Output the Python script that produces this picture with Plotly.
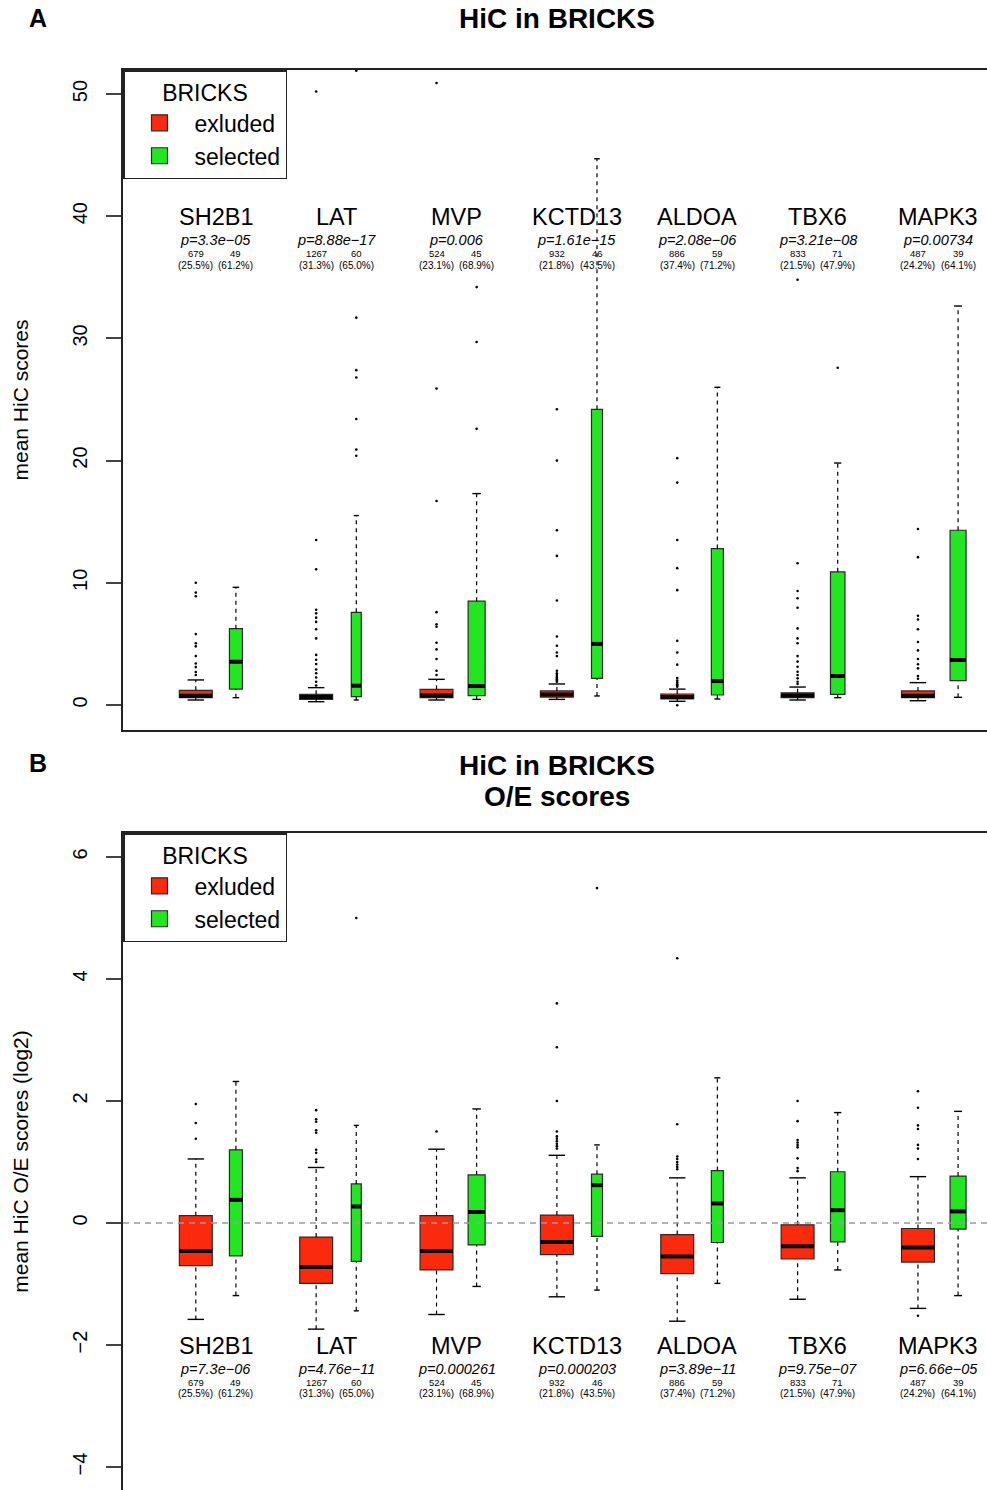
import plotly.graph_objects as go

# ---------------- data ----------------
genes = ["SH2B1", "LAT", "MVP", "KCTD13", "ALDOA", "TBX6", "MAPK3"]
n_excl = [679, 1267, 524, 932, 886, 833, 487]
n_sel = [49, 60, 45, 46, 59, 71, 39]
pct_excl = [25.5, 31.3, 23.1, 21.8, 37.4, 21.5, 24.2]
pct_sel = [61.2, 65.0, 68.9, 43.5, 71.2, 47.9, 64.1]
p_A = ["3.3e\u221205", "8.88e\u221217", "0.006", "1.61e\u221215", "2.08e\u221206", "3.21e\u221208", "0.00734"]
p_B = ["7.3e\u221206", "4.76e\u221211", "0.000261", "0.000203", "3.89e\u221211", "9.75e\u221207", "6.66e\u221205"]

# Panel A: mean HiC scores  [lower whisker, q1, median, q3, upper whisker]
A_excl_stats = [
    [0.41, 0.60, 0.76, 1.20, 2.05],
    [0.27, 0.46, 0.65, 0.87, 1.42],
    [0.41, 0.60, 0.78, 1.28, 2.10],
    [0.46, 0.65, 0.85, 1.15, 1.72],
    [0.30, 0.49, 0.65, 0.90, 1.30],
    [0.41, 0.60, 0.78, 1.00, 1.47],
    [0.35, 0.60, 0.75, 1.15, 1.83],
]
A_sel_stats = [
    [0.60, 1.30, 3.54, 6.25, 9.63],
    [0.41, 0.68, 1.58, 7.58, 15.5],
    [0.46, 0.76, 1.55, 8.50, 17.3],
    [0.74, 2.18, 5.00, 24.2, 44.7],
    [0.49, 0.82, 1.96, 12.8, 26.0],
    [0.60, 0.87, 2.37, 10.9, 19.8],
    [0.63, 2.00, 3.68, 14.3, 32.65],
]
A_excl_out = [
    [10.0, 9.2, 8.9, 5.8, 5.05, 4.8, 4.0, 3.4, 3.1, 2.7, 2.45],
    [50.2, 13.5, 11.1, 7.8, 7.5, 7.15, 6.8, 6.2, 5.45, 4.1, 3.7, 3.35, 2.9, 2.6, 2.25, 1.9, 1.6],
    [50.9, 25.9, 16.7, 7.6, 6.6, 6.4, 5.1, 4.55, 3.76, 2.8, 2.45],
    [24.2, 20.0, 14.3, 12.2, 8.55, 5.6, 4.85, 4.3, 4.0, 2.8, 2.6, 2.45, 2.3, 2.2, 2.1, 2.0, 1.9],
    [20.2, 18.2, 13.5, 11.2, 9.4, 5.25, 4.3, 3.3, 2.2, 2.0, 1.85, 1.7, 1.6, 1.5, -0.02],
    [34.8, 11.6, 9.33, 8.73, 7.96, 6.27, 5.45, 5.05, 4.0, 3.55, 3.13, 2.72, 2.45, 2.18, 1.9, 1.72],
    [14.4, 12.1, 7.3, 7.0, 6.2, 5.15, 4.47, 3.76, 3.33, 3.0, 2.37, 2.15],
]
A_sel_out = [
    [],
    [51.9, 31.7, 27.4, 26.8, 23.4, 20.9, 20.4],
    [34.2, 29.7, 22.6],
    [],
    [],
    [27.6],
    [],
]

# Panel B: mean HiC O/E scores (log2)
B_excl_stats = [
    [-1.58, -0.70, -0.46, 0.12, 1.05],
    [-1.74, -0.99, -0.72, -0.23, 0.91],
    [-1.50, -0.77, -0.46, 0.12, 1.21],
    [-1.21, -0.52, -0.31, 0.13, 1.11],
    [-1.61, -0.83, -0.55, -0.19, 0.74],
    [-1.25, -0.59, -0.38, -0.03, 0.74],
    [-1.40, -0.64, -0.40, -0.09, 0.76],
]
B_sel_stats = [
    [-1.19, -0.54, 0.38, 1.20, 2.32],
    [-1.44, -0.63, 0.27, 0.64, 1.60],
    [-1.04, -0.36, 0.18, 0.79, 1.87],
    [-1.10, -0.22, 0.62, 0.80, 1.28],
    [-0.99, -0.32, 0.32, 0.86, 2.38],
    [-0.77, -0.31, 0.21, 0.84, 1.81],
    [-1.19, -0.10, 0.19, 0.77, 1.83],
]
B_excl_out = [
    [1.95, 1.64, 1.38],
    [1.85, 1.70, 1.66, 1.52, 1.48, 1.20, 1.15, 1.04, 1.00],
    [1.50],
    [3.60, 2.88, 2.00, 1.50, 1.42, 1.38, 1.34, 1.30, 1.26, 1.22],
    [4.34, 1.62, 1.09, 1.05, 1.00, 0.96, 0.92, 0.88],
    [2.00, 1.67, 1.36, 1.32, 1.28, 1.24, 1.06, 0.90, 0.85],
    [2.16, 1.89, 1.60, 1.54, 1.28, 1.22, 1.05, -1.52],
]
B_sel_out = [
    [],
    [5.0],
    [],
    [5.49],
    [],
    [],
    [],
]

# relative box widths (x units; one gene block = 3 units)
w_excl = [0.82] * 7
w_sel = [0.324, 0.249, 0.424, 0.274, 0.299, 0.361, 0.399]

RED = "#fb2a0c"
GREEN = "#22e622"
EDGE = "#2a2a2a"
FONT = "Liberation Sans, Arial, Helvetica, sans-serif"

W, H = 987, 1490
X0 = 123.0
PX_PER_UNIT = 40.12
RED0_PX = 195.8
xrange = [(X0 - RED0_PX) / PX_PER_UNIT, (W - RED0_PX) / PX_PER_UNIT]

fig = go.Figure()


def add_panel(xa, ya, excl_stats, sel_stats, excl_out, sel_out):
    xs_w, ys_w = [], []
    xs_c, ys_c = [], []
    xs_m, ys_m = [], []
    xs_o, ys_o = [], []
    for g in range(len(genes)):
        for k, (stats, outs, widths, color) in enumerate(
            [(excl_stats, excl_out, w_excl, RED), (sel_stats, sel_out, w_sel, GREEN)]
        ):
            pos = 3 * g + k
            lo, q1, med, q3, hi = stats[g]
            w = widths[g]
            fig.add_trace(go.Box(
                x=[pos], q1=[q1], median=[med], q3=[q3],
                lowerfence=[q1], upperfence=[q3],
                width=w, fillcolor=color, whiskerwidth=0,
                line=dict(color=EDGE, width=1.2),
                boxpoints=False, showlegend=False, hoverinfo="skip",
                xaxis=xa, yaxis=ya,
            ))
            xs_w += [pos, pos, None, pos, pos, None]
            ys_w += [q3, hi, None, lo, q1, None]
            xs_c += [pos - w / 4, pos + w / 4, None, pos - w / 4, pos + w / 4, None]
            ys_c += [hi, hi, None, lo, lo, None]
            xs_m += [pos - w / 2, pos + w / 2, None]
            ys_m += [med, med, None]
            xs_o += [pos] * len(outs[g])
            ys_o += list(outs[g])
    fig.add_trace(go.Scatter(x=xs_w, y=ys_w, mode="lines",
                             line=dict(color="black", width=1.2, dash="4px,4px"),
                             showlegend=False, hoverinfo="skip", xaxis=xa, yaxis=ya))
    fig.add_trace(go.Scatter(x=xs_c, y=ys_c, mode="lines",
                             line=dict(color="black", width=1.4),
                             showlegend=False, hoverinfo="skip", xaxis=xa, yaxis=ya))
    fig.add_trace(go.Scatter(x=xs_m, y=ys_m, mode="lines",
                             line=dict(color="black", width=4),
                             showlegend=False, hoverinfo="skip", xaxis=xa, yaxis=ya))
    fig.add_trace(go.Scatter(x=xs_o, y=ys_o, mode="markers",
                             marker=dict(color="black", size=2.6),
                             showlegend=False, hoverinfo="skip", xaxis=xa, yaxis=ya))


add_panel("x", "y", A_excl_stats, A_sel_stats, A_excl_out, A_sel_out)
add_panel("x2", "y2", B_excl_stats, B_sel_stats, B_excl_out, B_sel_out)

# legend entries
for lg, xa, ya in [("legend", "x", "y"), ("legend2", "x2", "y2")]:
    for name, col in [("exluded", RED), ("selected", GREEN)]:
        fig.add_trace(go.Scatter(
            x=[None], y=[None], mode="markers", name=name,
            marker=dict(symbol="square", size=16, color=col, line=dict(color=EDGE, width=1.2)),
            legend=lg, xaxis=xa, yaxis=ya,
        ))

# panel y-pixel layout
A_top, A_bot = 70, 730
B_top, B_bot = 833, 1490
A_zero_px, A_px_per = 705, 12.22
B_zero_px, B_px_per = 1223, 61.0
A_range = [-(A_bot - A_zero_px) / A_px_per, (A_zero_px - A_top) / A_px_per]
B_range = [-(B_bot - B_zero_px) / B_px_per, (B_zero_px - B_top) / B_px_per]

axis_common = dict(showgrid=False, zeroline=False, linecolor="#222", linewidth=1.6)

legend_common = dict(xanchor="left", yanchor="top", bgcolor="white", bordercolor="#222",
                     borderwidth=1.5, font=dict(size=23), itemwidth=60,
                     title=dict(text="BRICKS", side="top center", font=dict(size=23)),
                     tracegroupgap=0)

fig.update_layout(
    width=W, height=H,
    margin=dict(l=0, r=0, t=0, b=0),
    plot_bgcolor="white", paper_bgcolor="white",
    font=dict(family=FONT, color="black"),
    boxmode="overlay",
    xaxis=dict(domain=[X0 / W, 1.0], range=xrange, showticklabels=False, ticks="",
               showline=True, mirror=True, anchor="y", **axis_common),
    yaxis=dict(domain=[1 - A_bot / H, 1 - A_top / H], range=A_range,
               tickvals=[0, 10, 20, 30, 40, 50], ticks="outside", ticklen=15, tickwidth=1.5,
               tickangle=-90, tickfont=dict(size=20), ticklabelstandoff=11,
               showline=True, anchor="x", automargin=False,
               title=dict(text="mean HiC scores", font=dict(size=21), standoff=35), **axis_common),
    xaxis2=dict(domain=[X0 / W, 1.0], range=xrange, showticklabels=False, ticks="",
                showline=True, side="top", anchor="y2", **axis_common),
    yaxis2=dict(domain=[0.0, 1 - B_top / H], range=B_range,
                tickvals=[-4, -2, 0, 2, 4, 6], ticks="outside", ticklen=15, tickwidth=1.5,
                tickangle=-90, tickfont=dict(size=20), ticklabelstandoff=11,
                showline=True, anchor="x2", automargin=False,
                title=dict(text="mean HiC O/E scores (log2)", font=dict(size=21), standoff=35),
                **axis_common),
    legend=dict(x=X0 / W, y=1 - A_top / H, **legend_common),
    legend2=dict(x=X0 / W, y=1 - B_top / H, **legend_common),
)

# zero reference line in panel B
fig.add_shape(type="line", xref="x2 domain", x0=0, x1=1, yref="y2", y0=0, y1=0,
              line=dict(color="#9a9a9a", width=1.3, dash="6px,5px"), layer="above")

# titles
ann = []


def title_ann(text, ypx, size=28, xpx=557):
    ann.append(dict(text="<b>" + text + "</b>", x=xpx / W, y=1 - ypx / H, xref="paper",
                    yref="paper", showarrow=False, font=dict(size=size),
                    xanchor="center", yanchor="middle"))


title_ann("HiC in BRICKS", 18)
title_ann("A", 18, size=25, xpx=38)
title_ann("HiC in BRICKS", 765)
title_ann("O/E scores", 796)
title_ann("B", 763, size=25, xpx=38)


def gene_labels(xr, yr, pvals, y_name, y_p, y_n, y_pct):
    for g, gene in enumerate(genes):
        c = 3 * g + 0.5
        ann.append(dict(text=gene, x=c, y=y_name, xref=xr, yref=yr, showarrow=False,
                        font=dict(size=23.5), yanchor="middle"))
        ann.append(dict(text="<i>p=" + pvals[g] + "</i>", x=c, y=y_p, xref=xr, yref=yr,
                        showarrow=False, font=dict(size=14.5), yanchor="middle"))
        for k, (n, pc) in enumerate([(n_excl[g], pct_excl[g]), (n_sel[g], pct_sel[g])]):
            ann.append(dict(text=str(n), x=3 * g + k, y=y_n, xref=xr, yref=yr, showarrow=False,
                            font=dict(size=9.5), yanchor="middle"))
            ann.append(dict(text="(%.1f%%)" % pc, x=3 * g + k, y=y_pct, xref=xr, yref=yr,
                            showarrow=False, font=dict(size=10), yanchor="middle"))


def a_val(px):
    return (A_zero_px - px) / A_px_per


def b_val(px):
    return (B_zero_px - px) / B_px_per


gene_labels("x", "y", p_A, a_val(217), a_val(240), a_val(253), a_val(265))
gene_labels("x2", "y2", p_B, b_val(1346), b_val(1369), b_val(1382), b_val(1393))

fig.update_layout(annotations=ann)

fig.write_html("out.html")
